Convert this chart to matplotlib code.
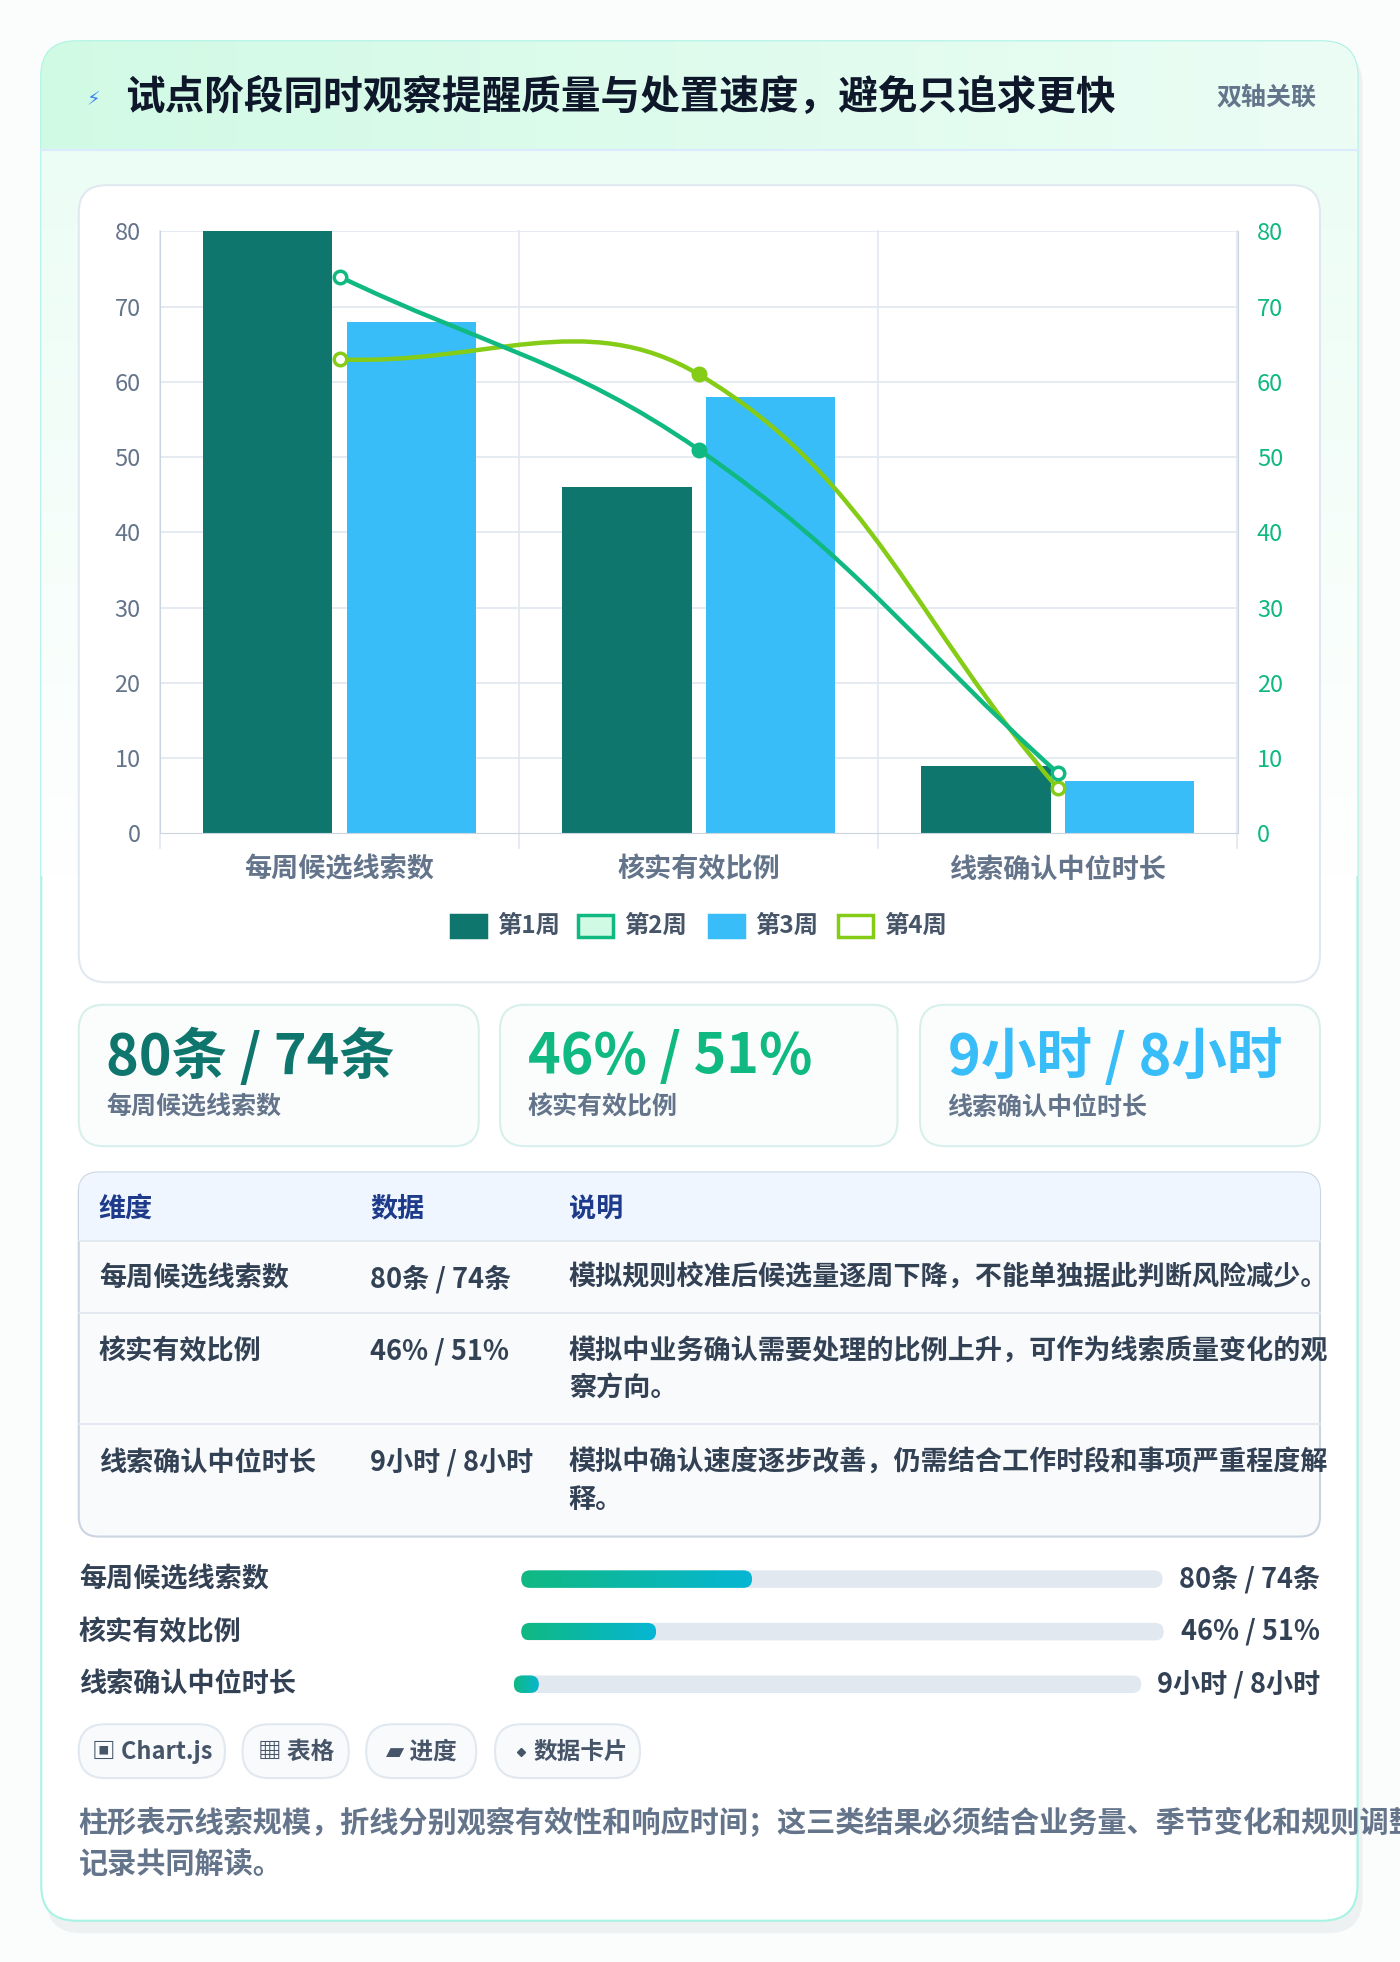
import numpy as np
import matplotlib.pyplot as plt
from matplotlib.patches import FancyBboxPatch, Rectangle
from matplotlib.path import Path
from matplotlib.patches import PathPatch

plt.rcParams['font.family'] = ['Noto Sans CJK SC', 'DejaVu Sans']

# ---- data ----
Categories = ["每周候选线索数", "核实有效比例", "线索确认中位时长"]
Week1 = [80, 46, 9]
Week2 = [74, 51, 8]
Week3 = [68, 58, 7]
Week4 = [63, 61, 6]
Kpi_Values = ["80条 / 74条", "46% / 51%", "9小时 / 8小时"]
Table_Header = ["维度", "数据", "说明"]
Table_Notes = ["模拟规则校准后候选量逐周下降，不能单独据此判断风险减少。",
               "模拟中业务确认需要处理的比例上升，可作为线索质量变化的观\n察方向。",
               "模拟中确认速度逐步改善，仍需结合工作时段和事项严重程度解\n释。"]
Progress_Fill = [0.36, 0.21, 0.04]
Chips = ["▣ Chart.js", "▦ 表格", "▰ 进度", "数据卡片"]

W, H = 1120, 1568  # layout units (scaled 1.25 to output)
fig = plt.figure(figsize=(14, 19.62), dpi=100)
bg = fig.add_axes([0, 0, 1, 1])
bg.set_xlim(0, W); bg.set_ylim(H, 0); bg.axis('off')
fig.patch.set_facecolor('#fbfcfc')

def fs(d):
    return d * 1.0

def rbox(x0, y0, x1, y1, r, fc, ec, lw=1.2, z=1):
    p = FancyBboxPatch((x0, y0), x1 - x0, y1 - y0, boxstyle="round,pad=0,rounding_size=%s" % r,
                       fc=fc, ec=ec, lw=lw, zorder=z)
    bg.add_patch(p)
    return p

def grad(x0, y0, x1, y1, c0, c1, clip, z=2, horiz=True):
    c0 = np.array(plt.matplotlib.colors.to_rgb(c0)); c1 = np.array(plt.matplotlib.colors.to_rgb(c1))
    t = np.linspace(0, 1, 256)
    g = c0[None, :] * (1 - t[:, None]) + c1[None, :] * t[:, None]
    img = g[None, :, :] if horiz else g[:, None, :]
    im = bg.imshow(img, extent=(x0, x1, y1, y0), aspect='auto', zorder=z, interpolation='bilinear')
    im.set_clip_path(clip)

# outer card + shadow
rbox(37, 40, 1090, 1545, 28, '#eef1f1', 'none', z=0)
card = rbox(33, 33, 1086, 1535, 28, 'white', '#a7f3e4', lw=1.5, z=1)
grad(33, 33, 1086, 120, '#d1fae5', '#ecfdf5', card, z=2)
grad(33, 120, 1086, 700, '#ecfdf5', '#ffffff', card, z=1.5, horiz=False)
bg.plot([33, 1086], [120, 120], color='#dbeafe', lw=1.5, zorder=3)
bg.text(75, 80, "⚡", color='#3b82f6', fontsize=fs(14), ha='center', va='center', zorder=4)
bg.text(100, 78, "试点阶段同时观察提醒质量与处置速度，避免只追求更快", fontsize=fs(28.5),
        weight='bold', color='#0f172a', va='center', zorder=4)
bg.text(1053, 78, "双轴关联", fontsize=fs(18), weight='bold', color='#64748b', ha='right', va='center', zorder=4)

# chart card
rbox(63, 148, 1056, 785, 22, 'white', '#e2e8f0', lw=1.5, z=3)

# chart axes
L, R, T, B = 128, 990, 185, 666
ax = fig.add_axes([L / W, 1 - B / H, (R - L) / W, (B - T) / H])
ax.set_zorder(5); ax.patch.set_alpha(0)
x = np.arange(3)
ax.bar(x - 0.2, Week1, width=0.36, color='#0f766e', zorder=2)
ax.bar(x + 0.2, Week3, width=0.36, color='#38bdf8', zorder=2)
ax.set_xlim(-0.5, 2.5); ax.set_ylim(0, 80)
ax.set_yticks(range(0, 81, 10))
ax.tick_params(axis='y', length=0, labelsize=fs(17), labelcolor='#64748b', pad=14)
ax.set_xticks([])
for v in range(10, 81, 10):
    ax.axhline(v, color='#e2e8f0', lw=1.2, zorder=0)
for b in [-0.5, 0.5, 1.5, 2.5]:
    ax.plot([b, b], [-2, 80], color='#e2e8f0', lw=1.2, zorder=0, clip_on=False)
for s in ['top', 'right']:
    ax.spines[s].set_visible(False)
ax.spines['left'].set_color('#cbd5e1'); ax.spines['bottom'].set_color('#cbd5e1')
for i, c in enumerate(Categories):
    ax.text(i, -4.8, c, ha='center', va='center', fontsize=fs(19.5), weight='bold', color='#64748b')
ax2 = ax.twinx()
ax2.set_ylim(0, 80); ax2.set_yticks(range(0, 81, 10))
ax2.tick_params(axis='y', length=0, labelsize=fs(17), labelcolor='#10b981', pad=14)
for s in ['top', 'left', 'bottom']:
    ax2.spines[s].set_visible(False)
ax2.spines['right'].set_color('#cbd5e1')

def spline(vals, t=0.4):
    # Chart.js style bezier through points, computed in pixel space
    px = [L + (R - L) * (i + 0.5) / 3 for i in range(len(vals))]
    py = [B - v * (B - T) / 80 for v in vals]
    P = np.array(list(zip(px, py)))
    n = len(P)
    verts, codes = [P[0]], [Path.MOVETO]
    cps = []
    for i in range(n):
        p0 = P[max(i - 1, 0)]; p1 = P[i]; p2 = P[min(i + 1, n - 1)]
        d01 = np.hypot(*(p1 - p0)); d12 = np.hypot(*(p2 - p1))
        s = d01 + d12
        fa = t * d01 / s if s else 0; fb = t * d12 / s if s else 0
        cps.append((p1 - fa * (p2 - p0), p1 + fb * (p2 - p0)))
    for i in range(n - 1):
        verts += [cps[i][1], cps[i + 1][0], P[i + 1]]
        codes += [Path.CURVE4] * 3
    verts = np.array(verts)
    xd = (verts[:, 0] - L) / (R - L) * 3 - 0.5
    yd = (B - verts[:, 1]) / (B - T) * 80
    return Path(np.column_stack([xd, yd]), codes)

for vals, col in [(Week4, '#84cc16'), (Week2, '#10b981')]:
    ax2.add_patch(PathPatch(spline(vals), fc='none', ec=col, lw=3.2, zorder=4))
    for i, v in enumerate(vals):
        ax2.plot(i, v, 'o', ms=9, mfc=col if i == 1 else 'white', mec=col, mew=2.5, zorder=5)

# legend
leg = [("第1周", '#0f766e', '#0f766e'), ("第2周", '#d1fae5', '#10b981'),
       ("第3周", '#38bdf8', '#38bdf8'), ("第4周", '#ffffff', '#84cc16')]
lx = [361, 462, 567, 670]
for (lab, fc, ec), x0 in zip(leg, lx):
    bg.add_patch(Rectangle((x0, 731), 28, 18, fc=fc, ec=ec, lw=2.5, zorder=4))
    bg.text(x0 + 37, 740, lab, fontsize=fs(17.5), weight='bold', color='#475569', va='center', zorder=4)

# KPI cards
kx = [(63, 383), (400, 718), (736, 1056)]
kc = ['#0f766e', '#10b981', '#38bdf8']
for (x0, x1), v, c, lab in zip(kx, Kpi_Values, kc, Categories):
    rbox(x0, 803, x1, 916, 20, '#fbfdfd', '#d8f0ec', lw=1.5, z=3)
    bg.text(x0 + 22, 845, v, fontsize=fs(40), weight='bold', color=c, va='center', zorder=4)
    bg.text(x0 + 22, 885, lab, fontsize=fs(18), weight='bold', color='#64748b', va='center', zorder=4)

# table
tb = rbox(63, 937, 1056, 1228, 16, '#f8fafc', '#cbd5e1', lw=1.5, z=3)
hdr = Rectangle((63, 937), 993, 55, fc='#eff6ff', ec='none', zorder=3.5)
bg.add_patch(hdr); hdr.set_clip_path(tb)
cols = [79, 296, 455]
for c, t in zip(cols, Table_Header):
    bg.text(c, 966, t, fontsize=fs(19.5), weight='bold', color='#1e3a8a', va='center', zorder=4)
for yy in [992, 1049, 1138]:
    bg.plot([63, 1056], [yy, yy], color='#e2e8f0', lw=1.3, zorder=4)
rows_y = [1022, 1080, 1169]
for yy, cat, v, note in zip(rows_y, Categories, Kpi_Values, Table_Notes):
    bg.text(79, yy, cat, fontsize=fs(19.5), weight='bold', color='#334155', va='center', zorder=4)
    bg.text(296, yy, v, fontsize=fs(19.5), weight='bold', color='#334155', va='center', zorder=4)
    bg.text(455, yy - 12, note, fontsize=fs(19.5), weight='bold', color='#334155', va='top',
            linespacing=1.45, zorder=4)

# progress bars
py = [1262, 1304, 1346]
tracks = [(417, 930), (417, 931), (411, 913)]
for yy, cat, v, f, (x0, x1) in zip(py, Categories, Kpi_Values, Progress_Fill, tracks):
    bg.text(63, yy, cat, fontsize=fs(19.5), weight='bold', color='#334155', va='center', zorder=4)
    bg.text(1056, yy, v, fontsize=fs(19.5), weight='bold', color='#334155', va='center', ha='right', zorder=4)
    rbox(x0, yy - 7, x1, yy + 7, 7, '#e2e8f0', 'none', z=3)
    xf = x0 + max(f * (x1 - x0), 20)
    fp = rbox(x0, yy - 7, xf, yy + 7, 7, 'none', 'none', z=3.5)
    grad(x0, yy - 7, xf, yy + 7, '#10b981', '#06b6d4', fp, z=3.6)

# chips
cx = [(63, 180), (194, 279), (293, 381), (396, 512)]
for k, ((x0, x1), t) in enumerate(zip(cx, Chips)):
    rbox(x0, 1378, x1, 1421, 21, '#f8fafc', '#e2e8f0', lw=1.5, z=3)
    if k == 3:
        bg.plot(x0 + 21, 1400, 'D', ms=4, color='#475569', zorder=4)
        bg.text(x0 + 31, 1400, t, fontsize=fs(17), weight='bold', color='#475569',
                ha='left', va='center', zorder=4)
    else:
        bg.text((x0 + x1) / 2, 1400, t, fontsize=fs(17), weight='bold', color='#475569',
                ha='center', va='center', zorder=4)

bg.text(63, 1473, "柱形表示线索规模，折线分别观察有效性和响应时间；这三类结果必须结合业务量、季节变化和规则调整\n记录共同解读。",
        fontsize=fs(21), weight='bold', color='#64748b', va='center', linespacing=1.45, zorder=4)

fig.savefig('out.png', dpi=100)
